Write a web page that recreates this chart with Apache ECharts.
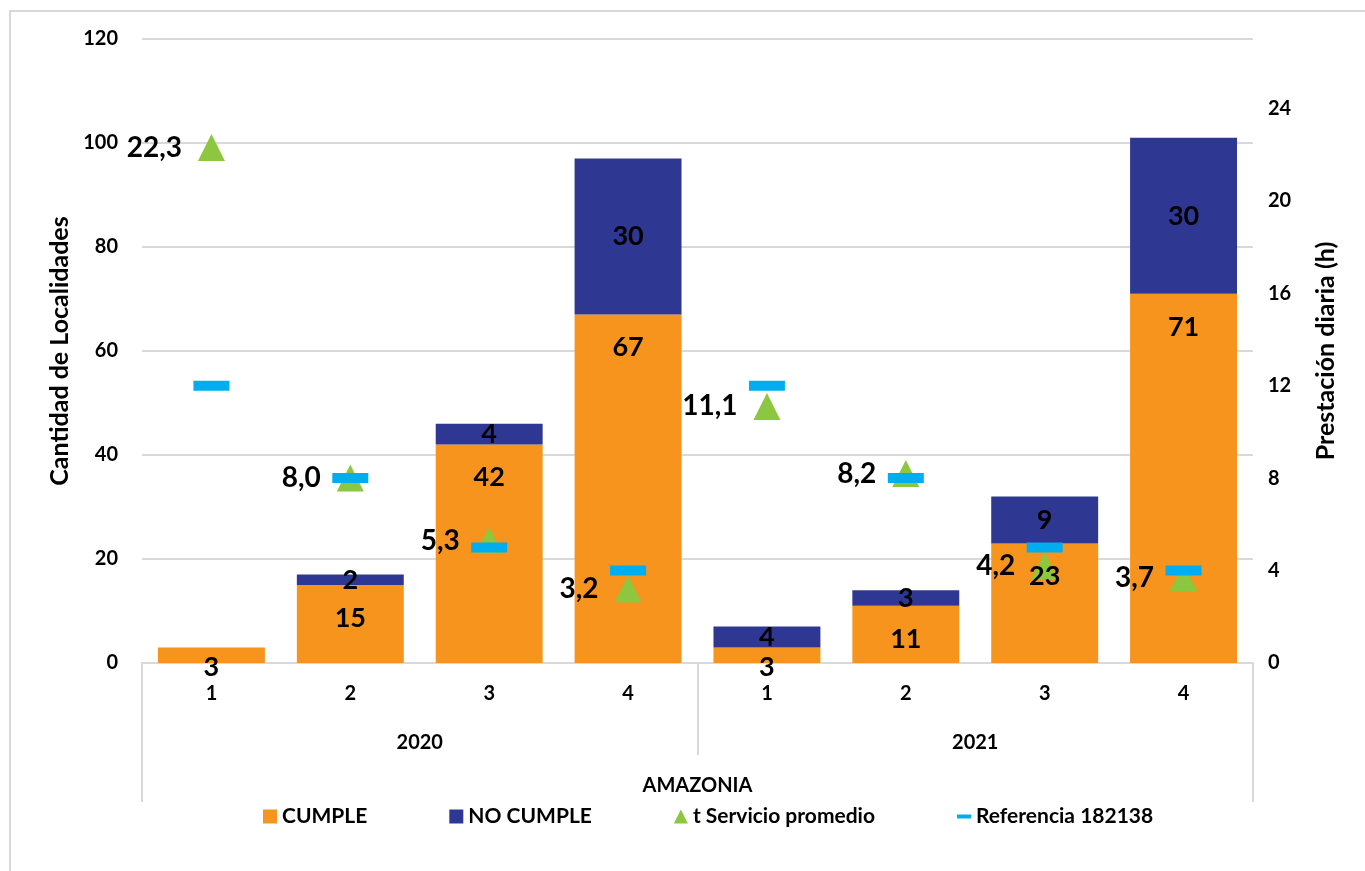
<!DOCTYPE html>
<html>
<head>
<meta charset="utf-8">
<script src="https://cdn.jsdelivr.net/npm/echarts@6/dist/echarts.min.js"></script>
<style>
  html, body { margin: 0; padding: 0; background: #fff; overflow: hidden; }
  #frame { position: absolute; left: 9px; top: 10px; width: 1400px; height: 900px;
           border-left: 2px solid #d9d9d9; border-top: 2px solid #d9d9d9; }
  #chart { position: absolute; left: 0; top: 0; width: 1365px; height: 871px; }
</style>
</head>
<body>
<div id="frame"></div>
<div id="chart"></div>
<script>
// Quarters per year, AMAZONIA region
const quarters = ['1', '2', '3', '4', '1', '2', '3', '4'];
const years = ['2020', '2021'];
const region = ['AMAZONIA'];

// Number of localities per quarter
const cumple = [3, 15, 42, 67, 3, 11, 23, 71];
const noCumple = [0, 2, 4, 30, 4, 3, 9, 30];

// Daily service hours
const tServicio = [22.3, 8.0, 5.3, 3.2, 11.1, 8.2, 4.2, 3.7];
const referencia = [12, 8, 5, 4, 12, 8, 5, 4];

// Axis ticks
const leftTicks = { min: 0, max: 120, interval: 20 };
const rightTicks = { min: 0, max: 27, interval: 4, lastLabel: 24 };

const FONT = 'Lato, "Open Sans", sans-serif';
const ORANGE = '#F7941D', NAVY = '#2E3892', GREEN = '#8DC63F', CYAN = '#00AEEF';
const GRID_GRAY = '#d9d9d9';

const chart = echarts.init(document.getElementById('chart'));

const labelFont = { fontSize: 27, fontWeight: 'bold', color: '#000', fontFamily: FONT };

// CUMPLE values are printed from a point at the top of each bar, so the
// text sits above the service-time markers; short bars put it under the base
const cumpleLabels = cumple.map(v => v < 5
  ? { value: v, label: { distance: 6 } }
  : v);

const option = {
  backgroundColor: 'transparent',
  animation: false,
  textStyle: { fontFamily: FONT, fontWeight: 'bold', color: '#000' },
  grid: { left: 142, right: 112, top: 39, bottom: 208, containLabel: false },
  legend: {
    left: 263, top: 806, padding: 0,
    itemGap: 82,
    itemWidth: 14, itemHeight: 14,
    textStyle: { fontFamily: FONT, fontWeight: 'bold', fontSize: 21, color: '#000' },
    data: [
      { name: 'CUMPLE', icon: 'path://M0,0h14v14h-14z' },
      { name: 'NO CUMPLE', icon: 'path://M0,0h14v14h-14z' },
      { name: 't Servicio promedio', icon: 'path://M7,0L14,14L0,14z' },
      { name: 'Referencia 182138', icon: 'path://M0,0M14,14M0,5h14v4h-14z' }
    ]
  },
  xAxis: [
    {
      type: 'category', data: quarters, position: 'bottom',
      axisLine: { show: true, lineStyle: { color: GRID_GRAY, width: 2 } },
      axisTick: { show: false },
      axisLabel: { interval: 0, margin: 21, fontSize: 20, fontWeight: 'bold', color: '#000', fontFamily: FONT }
    },
    {
      type: 'category', data: years, position: 'bottom',
      axisLine: { show: false },
      axisTick: { show: true, interval: 0, length: 92, lineStyle: { color: GRID_GRAY, width: 2 } },
      axisLabel: { interval: 0, margin: 70, fontSize: 20, fontWeight: 'bold', color: '#000', fontFamily: FONT }
    },
    {
      type: 'category', data: region, position: 'bottom',
      axisLine: { show: false },
      axisTick: { show: true, interval: 0, length: 139, lineStyle: { color: GRID_GRAY, width: 2 } },
      axisLabel: { interval: 0, margin: 113, fontSize: 20, fontWeight: 'bold', color: '#000', fontFamily: FONT }
    }
  ],
  yAxis: [
    {
      type: 'value', position: 'left',
      min: leftTicks.min, max: leftTicks.max, interval: leftTicks.interval,
      name: 'Cantidad de Localidades', nameLocation: 'middle', nameRotate: 90, nameGap: 70,
      nameTextStyle: { fontSize: 25, fontWeight: 'bold', color: '#000', fontFamily: FONT },
      axisLine: { show: false }, axisTick: { show: false },
      axisLabel: { margin: 24, fontSize: 20, fontWeight: 'bold', color: '#000', fontFamily: FONT },
      splitLine: { show: true, lineStyle: { color: GRID_GRAY, width: 2 } }
    },
    {
      type: 'value', position: 'right',
      min: rightTicks.min, max: rightTicks.max, interval: rightTicks.interval,
      name: 'Prestación diaria (h)', nameLocation: 'middle', nameRotate: 90, nameGap: 60,
      nameTextStyle: { fontSize: 25, fontWeight: 'bold', color: '#000', fontFamily: FONT },
      axisLine: { show: false }, axisTick: { show: false },
      axisLabel: {
        margin: 15, fontSize: 20, fontWeight: 'bold', color: '#000', fontFamily: FONT,
        showMaxLabel: false,
        formatter: v => (v % rightTicks.interval === 0 && v <= rightTicks.lastLabel) ? String(v) : ''
      },
      splitLine: { show: false }
    }
  ],
  series: [
    {
      name: 'CUMPLE', type: 'bar', stack: 'loc', xAxisIndex: 0, yAxisIndex: 0,
      barCategoryGap: '23%', z: 2,
      itemStyle: { color: ORANGE },
      label: { show: false },
      data: cumple
    },
    {
      name: 'NO CUMPLE', type: 'bar', stack: 'loc', xAxisIndex: 0, yAxisIndex: 0,
      barCategoryGap: '23%', z: 2,
      itemStyle: { color: NAVY },
      label: Object.assign({
        show: true, position: 'inside',
        formatter: p => (p.value > 0 ? String(p.value) : '')
      }, labelFont),
      data: noCumple
    },
    {
      name: 't Servicio promedio', type: 'scatter', xAxisIndex: 0, yAxisIndex: 1,
      symbol: 'triangle', symbolSize: [27, 27],
      itemStyle: { color: GREEN, opacity: 1 },
      z: 3,
      label: {
        show: true, position: 'left', distance: 16,
        fontSize: 28, fontWeight: 'bold', color: '#000', fontFamily: FONT,
        formatter: p => p.value.toFixed(1).replace('.', ',')
      },
      data: tServicio
    },
    {
      name: 'Referencia 182138', type: 'scatter', xAxisIndex: 0, yAxisIndex: 1,
      symbol: 'rect', symbolSize: [36, 10],
      itemStyle: { color: CYAN, opacity: 1 },
      z: 4,
      data: referencia
    },
    {
      name: 'cumple-valores', type: 'scatter', xAxisIndex: 0, yAxisIndex: 0,
      symbol: 'rect', symbolSize: 1,
      itemStyle: { color: 'rgba(0,0,0,0)', opacity: 1 },
      silent: true, z: 5,
      label: Object.assign({ show: true, position: 'bottom', distance: 19 }, labelFont),
      data: cumpleLabels
    }
  ]
};

chart.setOption(option);
</script>
</body>
</html>
